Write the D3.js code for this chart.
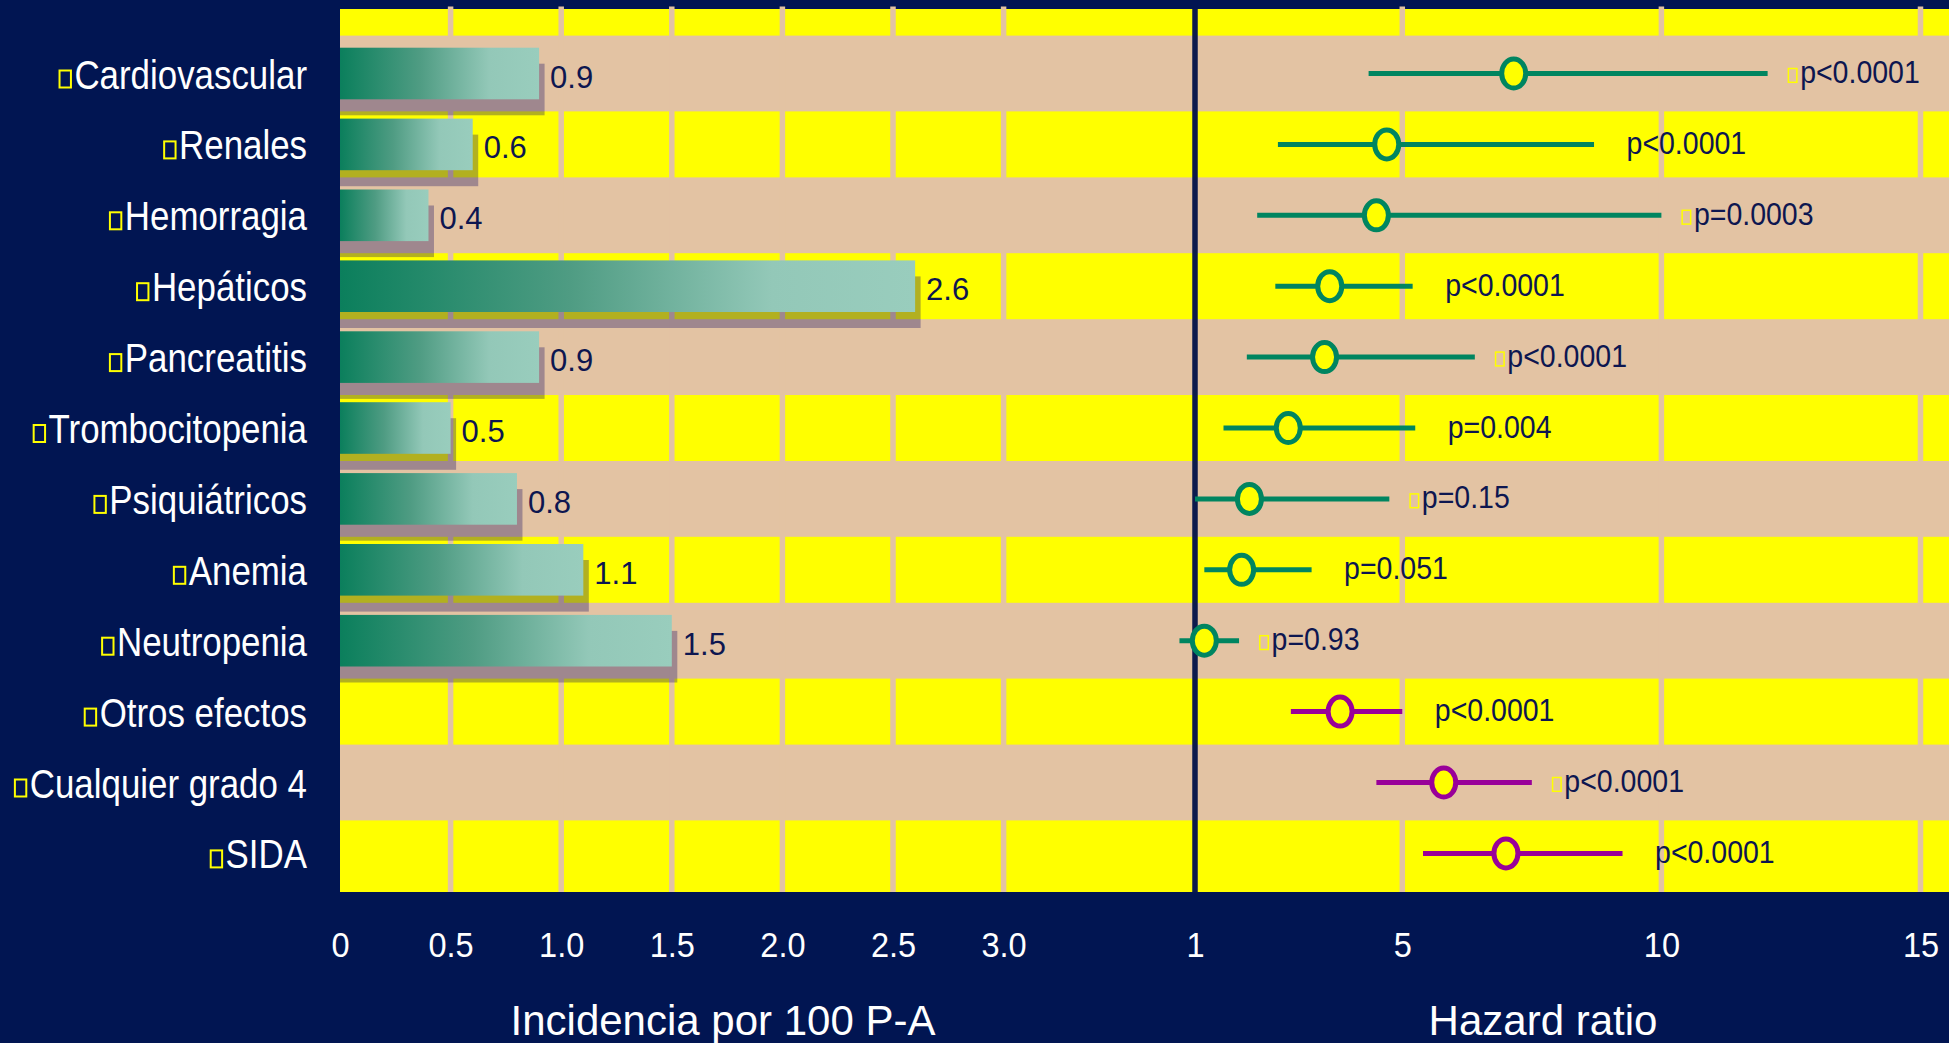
<!DOCTYPE html>
<html>
<head>
<meta charset="utf-8">
<script src="https://cdn.jsdelivr.net/npm/d3@7"></script>
<style>
  html, body { margin: 0; padding: 0; background: #011552; }
  svg { display: block; }
</style>
</head>
<body>
<svg id="chart" width="1949" height="1043"></svg>
<script>
// ---- data ----
const categories = ["Cardiovascular", "Renales", "Hemorragia", "Hepáticos", "Pancreatitis",
  "Trombocitopenia", "Psiquiátricos", "Anemia", "Neutropenia",
  "Otros efectos", "Cualquier grado 4", "SIDA"];
// incidence per 100 person-years (no bar for the last three outcomes)
const incidence = [0.9, 0.6, 0.4, 2.6, 0.9, 0.5, 0.8, 1.1, 1.5, null, null, null];
// hazard ratio with confidence interval
const hazardRatio = [7.15, 4.7, 4.5, 3.6, 3.5, 2.8, 2.05, 1.9, 1.18, 3.8, 5.8, 7.0];
const hrLower = [4.35, 2.6, 2.2, 2.55, 2.0, 1.55, 1.0, 1.18, 0.7, 2.85, 4.5, 5.4];
const hrUpper = [12.05, 8.7, 10.0, 5.2, 6.4, 5.25, 4.75, 3.25, 1.85, 5.0, 7.5, 9.25];
const pValues = ["p<0.0001", "p<0.0001", "p=0.0003", "p<0.0001", "p<0.0001", "p=0.004",
  "p=0.15", "p=0.051", "p=0.93", "p<0.0001", "p<0.0001", "p<0.0001"];
const outcomeGroup = ["toxicidad", "toxicidad", "toxicidad", "toxicidad", "toxicidad", "toxicidad",
  "toxicidad", "toxicidad", "toxicidad", "global", "global", "global"];
const incidenceTicks = [0, 0.5, 1.0, 1.5, 2.0, 2.5, 3.0];
const incidenceTickLabels = ["0", "0.5", "1.0", "1.5", "2.0", "2.5", "3.0"];
const hrTicks = [1, 5, 10, 15];
const hrTickLabels = ["1", "5", "10", "15"];

// ---- layout & style ----
const W = 1949, H = 1043;
const plotTop = 9, plotBottom = 892, plotLeft = 340, plotRight = W;
const FONT = "'Liberation Sans', Arial, Helvetica, sans-serif";
const C = {
  navy: "#011552", divider: "#0c1a4c", yellow: "#ffff00", tan: "#e3c3a3",
  ink: "#0d1650", shadow: "rgba(17,10,100,0.32)",
  group: { toxicidad: "#008560", global: "#990099" }
};

const svg = d3.select("#chart");
svg.append("rect").attr("width", W).attr("height", H).attr("fill", C.navy);

const xInc = d3.scaleLinear().domain([0, 3]).range([340, 1003.6]);
const xHR = d3.scaleLinear().domain([1, 15]).range([1195, 1920.5]);
const y = d3.scalePoint().domain(categories).range([73.5, 853.4]);
const step = y.step();
const stripeHalf = 33;

// bar gradient (per bar, dark teal to pale mint)
const defs = svg.append("defs");
const grad = defs.append("linearGradient").attr("id", "barGrad")
  .attr("x1", "0%").attr("x2", "100%").attr("y1", "0%").attr("y2", "0%");
grad.append("stop").attr("offset", "0%").attr("stop-color", "#0b7f5c");
grad.append("stop").attr("offset", "40%").attr("stop-color", "#4f9c83");
grad.append("stop").attr("offset", "75%").attr("stop-color", "#93c8b8");
grad.append("stop").attr("offset", "100%").attr("stop-color", "#99cdbd");

// ---- plot background: tan field with yellow stripes on alternate rows ----
svg.append("rect")
  .attr("x", plotLeft).attr("y", plotTop)
  .attr("width", plotRight - plotLeft).attr("height", plotBottom - plotTop)
  .attr("fill", C.tan);

const stripeRows = d3.range(-1, categories.length, 2);
svg.append("g").selectAll("rect").data(stripeRows).join("rect")
  .attr("x", plotLeft)
  .attr("width", plotRight - plotLeft)
  .attr("y", i => Math.max(plotTop, y(categories[0]) + i * step - stripeHalf))
  .attr("height", i => {
    const c = y(categories[0]) + i * step;
    const top = Math.max(plotTop, c - stripeHalf);
    const bottom = (i === categories.length - 1) ? plotBottom : c + stripeHalf;
    return bottom - top;
  })
  .attr("fill", C.yellow);

// ---- vertical gridlines ----
const grid = svg.append("g").attr("stroke", C.tan).attr("stroke-width", 5.5);
grid.selectAll("line.inc").data(incidenceTicks.filter(v => v > 0)).join("line")
  .attr("class", "inc")
  .attr("x1", d => xInc(d)).attr("x2", d => xInc(d))
  .attr("y1", plotTop - 2.5).attr("y2", plotBottom);
grid.selectAll("line.hr").data(hrTicks.filter(v => v > 1)).join("line")
  .attr("class", "hr")
  .attr("x1", d => xHR(d)).attr("x2", d => xHR(d))
  .attr("y1", plotTop - 2.5).attr("y2", plotBottom);

// ---- incidence bars ----
const barH = 51.6;
const barData = categories.map((c, i) => ({ c, v: incidence[i] })).filter(d => d.v != null);

svg.append("g").selectAll("rect").data(barData).join("rect")
  .attr("x", xInc(0))
  .attr("y", d => y(d.c) - barH / 2 + 16)
  .attr("width", d => xInc(d.v) - xInc(0) + 5.5)
  .attr("height", barH)
  .attr("fill", C.shadow);

svg.append("g").selectAll("rect").data(barData).join("rect")
  .attr("x", xInc(0))
  .attr("y", d => y(d.c) - barH / 2)
  .attr("width", d => xInc(d.v) - xInc(0))
  .attr("height", barH)
  .attr("fill", "url(#barGrad)");

svg.append("g").selectAll("text").data(barData).join("text")
  .attr("x", d => xInc(d.v) + 11)
  .attr("y", d => y(d.c) + 14)
  .attr("font-family", FONT).attr("font-size", 31)
  .attr("fill", C.ink)
  .text(d => d3.format(".1f")(d.v));

// ---- category labels with bullet boxes ----
const labelRight = 307, labelScale = 0.872;
const labels = svg.append("g").selectAll("g").data(categories).join("g");
labels.each(function (c) {
  const g = d3.select(this);
  const base = y(c) + 15;
  const t = g.append("text")
    .attr("transform", `translate(${labelRight},${base}) scale(${labelScale},1)`)
    .attr("text-anchor", "end")
    .attr("font-family", FONT).attr("font-size", 40)
    .attr("fill", "#ffffff")
    .text(c);
  const w = t.node().getComputedTextLength() * labelScale;
  g.append("rect")
    .attr("x", labelRight - w - 2.5 - 12.4)
    .attr("y", base - 18)
    .attr("width", 11.4).attr("height", 17)
    .attr("fill", "none").attr("stroke", C.yellow).attr("stroke-width", 2);
});

// ---- reference line at HR = 1 ----
svg.append("line")
  .attr("x1", xHR(1)).attr("x2", xHR(1))
  .attr("y1", plotTop).attr("y2", plotBottom)
  .attr("stroke", C.divider).attr("stroke-width", 5.5);

// ---- hazard ratio forest marks ----
const forest = categories.map((c, i) => ({
  c, hr: hazardRatio[i], lo: hrLower[i], hi: hrUpper[i], p: pValues[i], g: outcomeGroup[i]
}));

svg.append("g").selectAll("line").data(forest).join("line")
  .attr("x1", d => xHR(d.lo)).attr("x2", d => xHR(d.hi))
  .attr("y1", d => y(d.c)).attr("y2", d => y(d.c))
  .attr("stroke", d => C.group[d.g]).attr("stroke-width", 5);

svg.append("g").selectAll("ellipse").data(forest).join("ellipse")
  .attr("cx", d => xHR(d.hr)).attr("cy", d => y(d.c))
  .attr("rx", 12).attr("ry", 14.5)
  .attr("fill", C.yellow)
  .attr("stroke", d => C.group[d.g]).attr("stroke-width", 5);

const pLab = svg.append("g").selectAll("g").data(forest).join("g")
  .attr("transform", d => `translate(${xHR(d.hi) + 20},${y(d.c) + 9.5})`);
pLab.append("rect")
  .attr("x", 0.75).attr("y", -14.5)
  .attr("width", 8.5).attr("height", 13.8)
  .attr("fill", "none").attr("stroke", C.yellow).attr("stroke-width", 1.5);
pLab.append("text")
  .attr("transform", "translate(12.5,0) scale(0.92,1)")
  .attr("font-family", FONT).attr("font-size", 31)
  .attr("fill", C.ink)
  .text(d => d.p);

// ---- axes ----
function styleAxis(g) {
  g.select(".domain").remove();
  g.selectAll(".tick line").remove();
  g.selectAll(".tick text")
    .attr("y", 0).attr("dy", 0)
    .attr("transform", "scale(0.93,1)")
    .attr("font-family", FONT).attr("font-size", 35)
    .attr("fill", "#ffffff");
}
svg.append("g")
  .attr("transform", "translate(0,957)")
  .call(d3.axisBottom(xInc).tickValues(incidenceTicks)
    .tickFormat((d, i) => incidenceTickLabels[i]).tickSize(0))
  .call(styleAxis);
svg.append("g")
  .attr("transform", "translate(0,957)")
  .call(d3.axisBottom(xHR).tickValues(hrTicks)
    .tickFormat((d, i) => hrTickLabels[i]).tickSize(0))
  .call(styleAxis);

svg.append("text")
  .attr("x", 723).attr("y", 1035)
  .attr("text-anchor", "middle")
  .attr("font-family", FONT).attr("font-size", 42)
  .attr("fill", "#ffffff")
  .text("Incidencia por 100 P-A");
svg.append("text")
  .attr("x", 1543).attr("y", 1035)
  .attr("text-anchor", "middle")
  .attr("font-family", FONT).attr("font-size", 42)
  .attr("fill", "#ffffff")
  .text("Hazard ratio");
</script>
</body>
</html>
